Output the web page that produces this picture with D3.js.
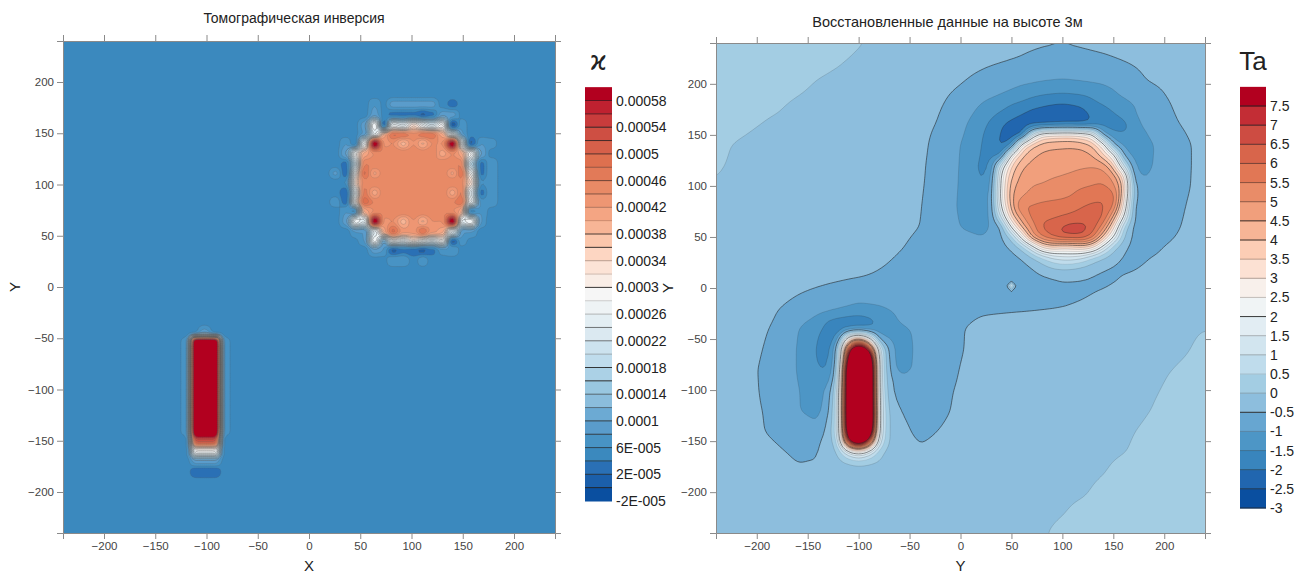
<!DOCTYPE html>
<html>
<head>
<meta charset="utf-8">
<script src="https://cdn.jsdelivr.net/npm/d3@7"></script>
<style>
  body { margin: 0; background: #fff; }
  svg text { font-family: "Liberation Sans", Arial, sans-serif; }
</style>
</head>
<body>
<div id="chart"></div>
<script>
// tick labels
const axisTicks = [-200, -150, -100, -50, 0, 50, 100, 150, 200];

// ---- left map: susceptibility, units of 1e-5, read cell by cell ----
const kappaBackground = 5;
const kappaLevels = d3.range(-2, 59, 2);
const kappaLabels = ["-2E-005", "2E-005", "6E-005", "0.0001", "0.00014", "0.00018", "0.00022", "0.00026",
    "0.0003", "0.00034", "0.00038", "0.00042", "0.00046", "0.0005", "0.00054", "0.00058"];
const kappaLineAlpha = [0, .95, .8, .7, .7, .8, .8, .5, .6, .95, .9, .3, .6, .6, .3, .2, .9, .2, .3, .9, .8, .2, .3, .5, .6, .4, .7, .8, .9, .6, .6];
const kappaMapAlpha = [0, .5, .5, .3, .3, .3, .7, .7, .7, .7, .7, .7, .7, .7, .7, .7, .8, .7, .7, .8, .7, .35, .3, .25, .25, .25, .25, .4, .4, .5, .5];
const cubeCells = [
    [5,5,5,5,8,5,9,9,9,9,9,5,3,5,5,5,5],
    [5,5,5,5,9,5,3,3,3,1,3,9,9,5,5,5,5],
    [5,5,5,9,29,0,27,24,34,27,22,29,0,8,5,5,5],
    [5,5,5,8,24,41,49,49,45,49,49,41,24,8,5,5,5],
    [5,8,3,27,62,43,44,39,44,39,44,44,62,26,1,8,7],
    [5,10,29,41,44,46,46,46,46,46,46,41,44,41,29,10,5],
    [5,3,20,46,46,46,44,44,44,44,44,46,46,46,18,3,8],
    [9,2,29,49,41,46,44,46,46,46,44,46,41,49,29,3,8],
    [5,6,34,45,46,46,44,46,44,46,44,46,46,45,34,6,8],
    [5,2,25,47,41,46,44,46,46,46,44,46,41,47,24,3,8],
    [8,2,31,50,46,46,44,44,44,44,44,46,46,49,28,7,8],
    [5,8,4,41,44,46,46,46,46,46,46,46,44,41,4,8,5],
    [5,9,29,24,62,43,44,39,44,39,44,44,62,24,29,8,4],
    [5,5,8,8,24,41,49,43,43,49,43,41,24,8,8,5,5],
    [5,5,5,8,29,8,28,25,33,27,23,29,0,8,5,5,5],
    [5,5,5,5,9,8,1,3,2,1,3,7,8,5,5,5,5],
    [5,5,5,5,5,5,8,8,5,8,5,5,5,5,5,5,5]
];
const dykeCells = [
    [5,5,9,5,5],
    [7,70,70,70,7], [7,70,70,70,7], [7,70,70,70,7], [7,70,70,70,7], [7,70,70,70,7],
    [7,70,70,70,7], [7,70,70,70,7], [7,70,70,70,7], [7,70,70,70,7], [7,70,70,70,7],
    [5,53,53,53,5],
    [5,29,29,29,5],
    [5,9,9,9,5],
    [5,2,2,2,5]
];

// ---- right map: Ta, whole area on a 20 unit grid, y 240 -> -240, x -240 -> 240 ----
const taLevels = d3.range(-3, 8, 0.5);
const taLabels = ["-3", "-2.5", "-2", "-1.5", "-1", "-0.5", "0", "0.5", "1", "1.5", "2", "2.5", "3", "3.5", "4", "4.5", "5", "5.5", "6", "6.5", "7", "7.5"];
const taLineAlpha = [.8, .7, .5, .3, .25, .95, .25, .15, .3, .3, .9, .25, .35, .3, .9, .9, .45, .45, .55, .65, .85, .95];
const taCoarse = [
    [.4,.4,.4,.4,.35,.3,.2,.03,-.1,-.2,-.25,-.3,-.32,-.35,-.38,-.42,-.46,-.49,-.45,-.4,-.35,-.3,-.28,-.25,-.25],
    [.4,.4,.35,.3,.2,.1,.02,-.1,-.15,-.2,-.25,-.35,-.4,-.45,-.5,-.55,-.65,-.7,-.65,-.6,-.52,-.43,-.35,-.3,-.25],
    [.35,.3,.2,.16,.08,-.03,-.1,-.15,-.2,-.25,-.3,-.4,-.49,-.6,-.75,-.95,-1.05,-1.1,-1.05,-.98,-.8,-.53,-.45,-.35,-.3],
    [.25,.15,.08,.04,-.05,-.12,-.17,-.2,-.23,-.28,-.38,-.47,-.65,-1,-1.3,-1.62,-1.9,-2,-1.9,-1.5,-1.2,-.85,-.55,-.4,-.3],
    [.15,.08,.01,-.05,-.1,-.13,-.17,-.2,-.22,-.25,-.4,-.53,-.85,-1.35,-1.75,-2.1,-1.8,-1.6,-1.8,-1.75,-1.7,-.9,-.6,-.47,-.38],
    [.06,-.02,-.08,-.12,-.15,-.18,-.2,-.22,-.23,-.28,-.4,-.64,-1,-1.45,-1.9,3.4,4.8,4.95,4.85,3.3,-1.1,-1.2,-.8,-.55,-.4],
    [.03,-.04,-.1,-.14,-.17,-.2,-.22,-.23,-.24,-.3,-.43,-.67,-1.02,-1.6,1.2,4.9,5.2,5.35,5.4,5.3,.7,-1.15,-.8,-.55,-.4],
    [-.02,-.08,-.12,-.16,-.18,-.2,-.22,-.24,-.25,-.32,-.46,-.65,-1.05,-1.5,1.8,5.2,5.55,5.7,5.95,6,3.5,-.95,-.72,-.54,-.4],
    [-.08,-.12,-.15,-.18,-.2,-.22,-.23,-.25,-.27,-.33,-.48,-.68,-1.08,-1.25,1.6,5.5,6.15,6.25,6.5,6.6,2.5,-.8,-.7,-.5,-.4],
    [-.12,-.15,-.18,-.2,-.22,-.23,-.24,-.26,-.3,-.4,-.5,-.65,-1.02,-1.2,-.6,4.7,6.6,7.1,7.2,5.8,.4,-.75,-.62,-.47,-.38],
    [-.15,-.17,-.2,-.22,-.24,-.25,-.26,-.28,-.33,-.47,-.6,-.65,-.7,-.72,-.55,.9,3.5,3.7,4,2,-.4,-.65,-.49,-.42,-.35],
    [-.18,-.2,-.22,-.24,-.26,-.27,-.29,-.32,-.48,-.6,-.68,-.7,-.72,-.7,-.7,-.6,-.51,-.32,-.45,-.7,-.48,-.42,-.38,-.32,-.28],
    [-.25,-.25,-.25,-.3,-.42,-.51,-.6,-.7,-.7,-.7,-.7,-.7,-.7,-.7,-.7,-.7,-.65,-.58,-.55,-.5,-.42,-.35,-.28,-.25,-.22],
    [-.25,-.3,-.38,-.48,-.65,-.83,-.97,-1.12,-1.05,-.9,-.78,-.68,-.6,-.55,-.55,-.54,-.52,-.5,-.46,-.4,-.32,-.28,-.23,-.2,-.15],
    [-.25,-.32,-.43,-.55,-.98,-1.35,-1.9,-2.2,-1.6,-1.05,-.95,-.72,-.52,-.42,-.35,-.3,-.28,-.25,-.22,-.2,-.16,-.12,-.08,-.04,0],
    [-.25,-.35,-.46,-.6,-1.02,-1.55,-1,5,3,-1.2,-.9,-.65,-.52,-.4,-.35,-.28,-.25,-.22,-.2,-.17,-.14,-.1,-.06,-.02,.05],
    [-.25,-.38,-.49,-.65,-1.02,-1.45,0,9,1,-1.15,-.9,-.62,-.49,-.38,-.3,-.25,-.22,-.2,-.17,-.14,-.1,-.06,-.02,.03,.1],
    [-.25,-.4,-.48,-.65,-.98,-1.2,.5,9,1.2,-.7,-.65,-.56,-.47,-.38,-.3,-.25,-.22,-.2,-.18,-.14,-.1,-.04,.01,.1,.15],
    [-.25,-.38,-.47,-.58,-.98,-1.15,.7,9,1.4,-.5,-.62,-.55,-.45,-.38,-.32,-.28,-.22,-.18,-.14,-.1,-.06,-.02,.04,.12,.18],
    [-.25,-.35,-.45,-.58,-.78,-.85,.6,8,1.3,-.4,-.58,-.49,-.42,-.35,-.3,-.25,-.2,-.15,-.12,-.08,-.03,.02,.1,.15,.2],
    [-.25,-.3,-.37,-.45,-.57,-.52,.1,.65,.2,-.3,-.46,-.4,-.35,-.3,-.25,-.2,-.15,-.1,-.07,-.04,-.01,.05,.12,.18,.22],
    [-.25,-.27,-.3,-.33,-.45,-.45,-.35,-.25,-.28,-.3,-.3,-.28,-.25,-.23,-.2,-.16,-.12,-.08,-.05,-.01,.06,.1,.16,.2,.24],
    [-.25,-.25,-.25,-.25,-.25,-.25,-.25,-.25,-.25,-.25,-.25,-.25,-.22,-.2,-.16,-.12,-.08,-.04,-.02,.05,.1,.15,.2,.24,.28],
    [-.25,-.25,-.25,-.25,-.25,-.25,-.25,-.25,-.25,-.25,-.25,-.24,-.22,-.2,-.15,-.1,-.05,-.01,.05,.1,.15,.2,.24,.28,.3],
    [-.25,-.25,-.25,-.25,-.25,-.25,-.25,-.25,-.25,-.25,-.25,-.24,-.21,-.18,-.13,-.08,-.02,.05,.1,.15,.2,.24,.28,.3,.32]
];
// finer 10 unit reading around the sphere, y 190 -> 10, x 20 -> 180
const taSphere = [
    [-.85,-.9,-1,-1.1,-1.2,-1.35,-1.45,-1.5,-1.53,-1.5,-1.45,-1.35,-1.12,-1,-.88,-.75,-.65],
    [-1,-1.15,-1.3,-1.5,-1.62,-1.8,-1.9,-2,-2.05,-2,-1.9,-1.65,-1.5,-1.35,-1.2,-1,-.85],
    [-1.25,-1.4,-1.6,-1.8,-2,-2.2,-2.3,-2.35,-2.35,-2.3,-2.2,-1.9,-1.7,-1.55,-1.35,-1.05,-.85],
    [-1.35,-1.6,-1.95,-2.2,-2.35,-2.35,-2.25,-2.15,-2.1,-2.1,-2.15,-1.95,-1.65,-1.75,-1.7,-1.25,-.9],
    [-1.45,-1.7,-2.05,-2.35,-2.3,1.3,3,3.2,3.3,3.3,3,2.4,-.9,-1.35,-1.45,-1.35,-1.15],
    [-1.5,-1.75,-2.15,-1.8,2.9,3.9,4.3,4.4,4.45,4.45,4.35,4,2.8,-.6,-1.1,-1.3,-1.2],
    [-1.55,-1.65,-1.7,2.5,3.9,4.4,4.6,4.65,4.65,4.7,4.7,4.5,3.7,2.5,-.7,-1.15,-1.2],
    [-1.6,-1.55,1.4,3.6,4.4,4.65,4.75,4.8,4.85,4.9,4.9,4.95,4.85,3.9,.9,-1,-1.15],
    [-1.6,-1.3,2.2,4,4.65,4.8,4.85,4.95,5,5.05,5.2,5.3,5.3,4.8,3.4,-.85,-1.05],
    [-1.5,-1.1,2.3,4.4,4.7,5,5.05,5.15,5.2,5.4,5.45,5.5,5.6,5.2,4,-.4,-.9],
    [-1.25,-1,2.4,4.5,4.95,5.2,5.3,5.35,5.4,5.5,5.7,5.85,5.95,5.9,3.6,-.4,-.8],
    [-1.25,-1.02,2.1,4.3,5.6,5.55,5.65,5.7,5.75,5.85,6,6.1,6.05,5.75,3,-.6,-.8],
    [-1.25,-1,1.1,3.8,4.9,5.7,5.85,5.9,6,6.1,6.2,6.35,6.1,4.6,2.1,-.6,-.8],
    [-1.25,-.95,-.6,2.2,4.2,5.2,6.1,6.3,6.6,6.75,6.7,6.35,5.3,3.4,.4,-.65,-.75],
    [-1,-.85,-.6,.1,2.3,4.8,5.6,6.1,6.5,6.55,6.5,5.8,4,2,0,-.65,-.7],
    [-.72,-.7,-.65,-.45,.1,1.4,3.2,3.6,3.2,3.3,3.6,3.2,1.6,.2,-.4,-.65,-.65],
    [-.7,-.7,-.7,-.65,-.5,-.1,.4,1,1.3,1.3,1,.4,0,-.3,-.55,-.65,-.6],
    [-.7,-.7,-.7,-.7,-.65,-.52,-.25,0,.1,.05,-.1,-.3,-.45,-.55,-.6,-.55,-.45],
    [-.7,-.7,-.7,-.7,-.7,-.65,-.58,-.52,-.45,-.47,-.5,-.55,-.6,-.58,-.45,-.4,-.35]
];
// finer 10 unit reading around the dyke, y -30 -> -170, x -140 -> -60
const taDyke = [
    [-1.15,-1.5,-1.65,-1.8,-1.8,-1.7,-1.35,-1.1,-.95],
    [-1.35,-1.7,-1.9,-1.65,-1.6,-1.6,-1.35,-1.2,-1.05],
    [-1.5,-1.9,-1.2,3,4.5,2.5,-.7,-1.05,-1.15],
    [-1.55,-1.85,-.2,7,10,7.5,1.2,-.7,-1.25],
    [-1.58,-1.65,-.3,8.5,14,11,1.3,-.6,-1.3],
    [-1.45,-1.55,0,10,14,12,1.3,-.5,-1.2],
    [-1.25,-1.3,.3,10,14,12,1.3,-.4,-.75],
    [-1.2,-.9,.7,10,14,12,1.4,-.35,-.7],
    [-1.2,-.8,.8,10,14,12,1.5,-.25,-.6],
    [-1.15,-.7,.9,10,14,12,1.6,-.15,-.5],
    [-1.05,-.45,.7,10,14,12,1.6,-.1,-.45],
    [-.8,-.35,.8,9.5,14,11,1.5,-.1,-.4],
    [-.55,-.3,.4,7.5,10,7,1.2,-.1,-.35],
    [-.52,-.3,0,1.6,2.6,1.6,.2,-.2,-.3],
    [-.52,-.2,-.15,.1,.2,.1,-.05,-.2,-.3]
];
// the lone diamond south-west of the sphere: x, y, value
const taSpike = [50, 2, 1];

const rampColors = ["#0a4fa0", "#1b5faa", "#2a70b5", "#3b89be", "#4893c4", "#5a9ccb", "#6caad3", "#8bbddc", "#99c7e0", "#abd1e6",
    "#bfdcec", "#cce2ee", "#dbe9f1", "#e3eef3", "#eef3f5", "#f6f6f6", "#f9ede6", "#fce3d6", "#fdd6c2", "#fbc6ab", "#f7b596",
    "#f4a583", "#ee9673", "#e88a66", "#e27a58", "#de704f", "#d6604a", "#ce4f43", "#c83c3c", "#bf2130", "#b2001f"];
const ramp = d3.scaleLinear().domain(rampColors.map((c, i) => i / 30)).range(rampColors);

const svg = d3.select("#chart").append("svg").attr("width", 1296).attr("height", 573);

// sample a rows-of-values reading with straight lines between its nodes
function sampleGrid(rows, xLeft, yTop, step, x, y) {
    let cx = (x - xLeft) / step, cy = (yTop - y) / step;
    let i = Math.min(Math.floor(cx), rows[0].length - 2), j = Math.min(Math.floor(cy), rows.length - 2);
    let fx = cx - i, fy = cy - j;
    return (rows[j][i] * (1 - fx) + rows[j][i + 1] * fx) * (1 - fy) + (rows[j + 1][i] * (1 - fx) + rows[j + 1][i + 1] * fx) * fy;
}

function kappaAt(x, y) {
    let j = Math.round((x - 101.6) / 9.46) + 8, i = Math.round((101.8 - y) / 9.46) + 8;
    if (cubeCells[i] && cubeCells[i][j] !== undefined) return cubeCells[i][j];
    j = Math.round((x + 101.5) / 9.5) + 2;
    i = Math.round((-43.5 - y) / 9.75);
    if (dykeCells[i] && dykeCells[i][j] !== undefined) return dykeCells[i][j];
    return kappaBackground;
}

function taAt(x, y) {
    if (x >= 20 && x <= 180 && y >= 10 && y <= 190) return sampleGrid(taSphere, 20, 190, 10, x, y);
    if (x >= -140 && x <= -60 && y >= -170 && y <= -30) return sampleGrid(taDyke, -140, -30, 10, x, y);
    return sampleGrid(taCoarse, -240, 240, 20, x, y);
}

function drawPanel(opt) {
    let x = d3.scaleLinear().domain([-240, 240]).range(opt.xRange);
    let y = d3.scaleLinear().domain([-240, 240]).range(opt.yRange);
    let g = svg.append("g");

    // evaluate the reading on a fine mesh and soften it a little
    let n = Math.round(480 / opt.step) + 1;
    let values = new Float64Array(n * n);
    for (let k = 0; k < n; k++) {
        for (let i = 0; i < n; i++) {
            values[k * n + i] = opt.valueAt(-240 + i * opt.step, 240 - k * opt.step);
        }
    }
    d3.blur2({data: values, width: n, height: n}, opt.blur);
    if (opt.spike) {
        let [sx, sy, sv] = opt.spike;
        for (let k = 0; k < n; k++) {
            for (let i = 0; i < n; i++) {
                let dist = (Math.abs(-240 + i * opt.step - sx) + Math.abs(240 - k * opt.step - sy)) / 5.5;
                if (dist < 1) values[k * n + i] = Math.max(values[k * n + i], sv + (values[k * n + i] - sv) * dist);
            }
        }
    }

    let clipId = "clip-" + opt.name;
    g.append("clipPath").attr("id", clipId).append("rect")
        .attr("x", opt.xRange[0]).attr("y", opt.yRange[1])
        .attr("width", opt.xRange[1] - opt.xRange[0]).attr("height", opt.yRange[0] - opt.yRange[1]);

    let contours = d3.contours().size([n, n]).thresholds(opt.levels.slice(1))(Array.from(values));
    let projection = d3.geoTransform({
        point: function(px, py) {
            this.stream.point(x(-240 + (px - 0.5) * opt.step), y(240 - (py - 0.5) * opt.step));
        }
    });
    let path = d3.geoPath(projection);
    let bandColor = i => ramp(i / (opt.levels.length - 1));
    let map = g.append("g").attr("clip-path", "url(#" + clipId + ")");

    map.append("rect")
        .attr("x", opt.xRange[0]).attr("y", opt.yRange[1])
        .attr("width", opt.xRange[1] - opt.xRange[0]).attr("height", opt.yRange[0] - opt.yRange[1])
        .attr("fill", bandColor(0));
    map.selectAll(".band").data(contours).enter().append("path")
        .attr("class", "band")
        .attr("d", path)
        .attr("fill", (d, i) => bandColor(i + 1));
    map.selectAll(".isoline").data(contours).enter().append("path")
        .attr("class", "isoline")
        .attr("d", path)
        .attr("fill", "none")
        .attr("stroke", opt.lineColor)
        .attr("stroke-width", opt.lineWidth)
        .attr("stroke-opacity", (d, i) => opt.mapAlpha[i + 1]);

    // axes on all four sides, labels only bottom and left
    let sides = [
        {axis: d3.axisBottom(x), at: [0, opt.yRange[0]], labels: true},
        {axis: d3.axisTop(x), at: [0, opt.yRange[1]], labels: false},
        {axis: d3.axisLeft(y), at: [opt.xRange[0], 0], labels: true},
        {axis: d3.axisRight(y), at: [opt.xRange[1], 0], labels: false}
    ];
    sides.forEach(s => {
        let a = g.append("g")
            .attr("transform", "translate(" + s.at[0] + "," + s.at[1] + ")")
            .call(s.axis.tickValues(axisTicks).tickSize(6).tickPadding(3)
                .tickFormat(s.labels ? d3.format("d") : ""));
        a.selectAll("path").attr("stroke", "#8a8a8a");
        a.selectAll("line").attr("stroke", "#8a8a8a");
        a.selectAll("text").attr("fill", "#444").style("font-size", "11.5px");
    });

    // titles
    g.append("text")
        .attr("x", (opt.xRange[0] + opt.xRange[1]) / 2 + opt.titleShift).attr("y", opt.titleY)
        .attr("text-anchor", "middle").style("font-size", opt.titleSize).attr("fill", "#222")
        .text(opt.title);
    g.append("text")
        .attr("x", x(0)).attr("y", 571)
        .attr("text-anchor", "middle").style("font-size", "15px").attr("fill", "#222")
        .text(opt.xTitle);
    g.append("text")
        .attr("transform", "translate(" + (opt.xRange[0] - 43) + "," + y(0) + ") rotate(-90)")
        .attr("text-anchor", "middle").style("font-size", "15px").attr("fill", "#222")
        .text("Y");

    // legend
    let legendY = d3.scaleLinear().domain([0, opt.levels.length - 1]).range(opt.legendRange);
    let bandH = Math.abs(legendY(1) - legendY(0));
    let legend = g.append("g");
    legend.selectAll("rect").data(opt.levels).enter().append("rect")
        .attr("x", opt.legendX).attr("width", opt.legendW)
        .attr("y", (d, i) => legendY(i) - bandH)
        .attr("height", bandH + 0.5)
        .attr("fill", (d, i) => bandColor(i));
    legend.selectAll("line").data(opt.levels).enter().append("line")
        .attr("x1", opt.legendX).attr("x2", opt.legendX + opt.legendW)
        .attr("y1", (d, i) => legendY(i)).attr("y2", (d, i) => legendY(i))
        .attr("stroke", "#222")
        .attr("stroke-opacity", (d, i) => opt.lineAlpha[i]);
    legend.selectAll("text").data(opt.labels).enter().append("text")
        .attr("x", opt.legendX + opt.legendW + 4)
        .attr("y", (d, i) => legendY(i * opt.labelEvery))
        .attr("dy", "0.36em")
        .style("font-size", "14px").attr("fill", "#222")
        .text(d => d);
    legend.append("text")
        .attr("x", opt.legendX + opt.legendW / 2).attr("y", 70)
        .attr("text-anchor", "middle")
        .style("font-size", opt.legendTitleSize).style("font-family", opt.legendTitleFont).attr("fill", "#222")
        .text(opt.legendTitle);
}

drawPanel({
    name: "kappa", xRange: [63, 555], yRange: [533, 41], step: 2, blur: 0.5,
    valueAt: kappaAt, levels: kappaLevels, lineAlpha: kappaLineAlpha, mapAlpha: kappaMapAlpha, lineColor: "#555", lineWidth: 0.6,
    title: "Томографическая инверсия", titleShift: -15, titleY: 23, titleSize: "14px", xTitle: "X",
    legendX: 585, legendW: 27, legendRange: [501, 100.5], labels: kappaLabels, labelEvery: 2,
    legendTitle: "ϰ", legendTitleSize: "26px", legendTitleFont: "'DejaVu Sans'"
});
drawPanel({
    name: "ta", xRange: [716, 1205], yRange: [533, 43], step: 2.5, blur: 1,
    valueAt: taAt, spike: taSpike, levels: taLevels, lineAlpha: taLineAlpha, mapAlpha: taLineAlpha, lineColor: "#222", lineWidth: 0.6,
    title: "Восстановленные данные на высоте 3м", titleShift: -13, titleY: 27, titleSize: "14.5px", xTitle: "Y",
    legendX: 1240, legendW: 26, legendRange: [508, 106], labels: taLabels, labelEvery: 1,
    legendTitle: "Ta", legendTitleSize: "26px", legendTitleFont: "'Liberation Sans'"
});
</script>
</body>
</html>
